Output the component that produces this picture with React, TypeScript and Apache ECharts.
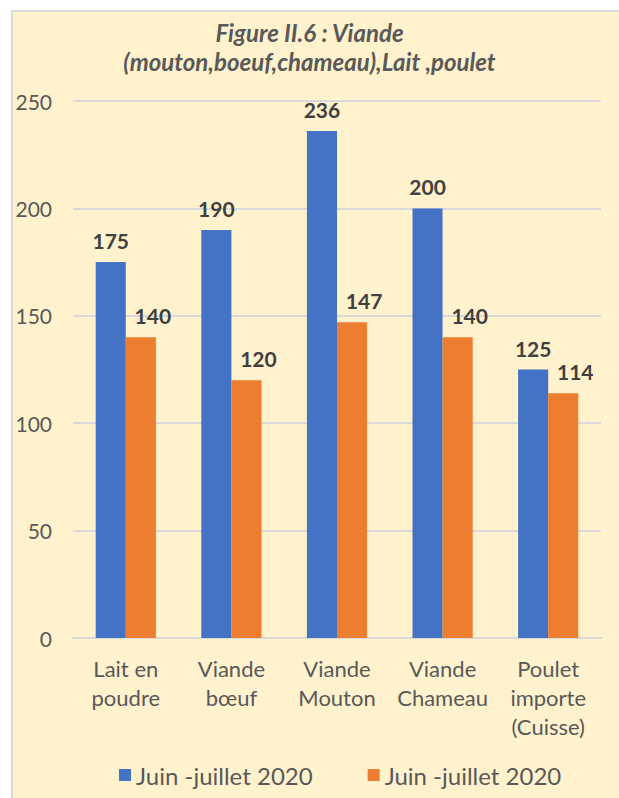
import React, { useEffect, useRef } from "react";
import * as echarts from "echarts";

const titleText = "Figure II.6 : Viande\n(mouton,boeuf,chameau),Lait ,poulet";
const categories = [
  "Lait en\npoudre",
  "Viande\nbœuf",
  "Viande\nMouton",
  "Viande\nChameau",
  "Poulet\nimporte\n(Cuisse)",
];
const seriesNames = ["Juin -juillet 2020", "Juin -juillet 2020"];
const blueValues = [175, 190, 236, 200, 125];
const orangeValues = [140, 120, 147, 140, 114];
const yTicks = { min: 0, max: 250, interval: 50 };

export default function App() {
  const ref = useRef<HTMLDivElement>(null);
  useEffect(() => {
    if (!ref.current) return;
    const chart = echarts.init(ref.current, undefined, { renderer: "svg" });
    const font = "Lato, 'Noto Sans', sans-serif";
    const labelStyle = {
      show: true,
      position: "top" as const,
      distance: 11,
      fontFamily: font,
      fontSize: 21,
      fontWeight: "bold" as const,
      color: "#404040",
    };
    chart.setOption({
      animation: false,
      backgroundColor: "#ffffff",
      graphic: [
        {
          type: "rect",
          z: -10,
          shape: { x: 12, y: 11, width: 640, height: 820 },
          style: { fill: "#FFF2CC", stroke: "#D9D9D9", lineWidth: 2 },
          silent: true,
        },
      ],
      title: {
        text: titleText,
        left: "center",
        top: 18,
        padding: 0,
        textStyle: {
          fontFamily: font,
          fontSize: 24,
          fontWeight: "bold",
          fontStyle: "italic",
          color: "#595959",
          lineHeight: 29,
        },
      },
      legend: {
        top: 763,
        left: 119,
        padding: 0,
        itemWidth: 12,
        itemHeight: 12,
        itemGap: 55,
        icon: "rect",
        data: seriesNames.map((n, i) => n + "#" + i),
        formatter: (name: string) => name.split("#")[0],
        textStyle: { fontFamily: font, fontSize: 24, color: "#595959" },
      },
      grid: { left: 73, right: 18, top: 101, bottom: 160, containLabel: false },
      xAxis: {
        type: "category",
        data: categories,
        axisTick: { show: false },
        axisLine: { lineStyle: { color: "#D9D9D9", width: 2 } },
        axisLabel: {
          interval: 0,
          margin: 16,
          fontFamily: font,
          fontSize: 22,
          lineHeight: 29,
          color: "#595959",
        },
      },
      yAxis: {
        type: "value",
        min: yTicks.min,
        max: yTicks.max,
        interval: yTicks.interval,
        axisLine: { show: false },
        axisTick: { show: false },
        splitLine: { lineStyle: { color: "#D9D9D9", width: 2 } },
        axisLabel: {
          margin: 21,
          fontFamily: font,
          fontSize: 21,
          color: "#595959",
        },
      },
      series: [
        {
          name: seriesNames[0] + "#0",
          type: "bar",
          data: blueValues,
          barGap: "0%",
          barCategoryGap: "43%",
          itemStyle: { color: "#4472C4" },
          label: labelStyle,
        },
        {
          name: seriesNames[1] + "#1",
          type: "bar",
          data: orangeValues,
          barGap: "0%",
          barCategoryGap: "43%",
          itemStyle: { color: "#ED7D31" },
          label: { ...labelStyle, offset: [12, 0] },
        },
      ],
    });
    return () => chart.dispose();
  }, []);
  return (
    <div
      ref={ref}
      style={{ position: "absolute", left: 0, top: 0, width: 619, height: 798 }}
    />
  );
}
